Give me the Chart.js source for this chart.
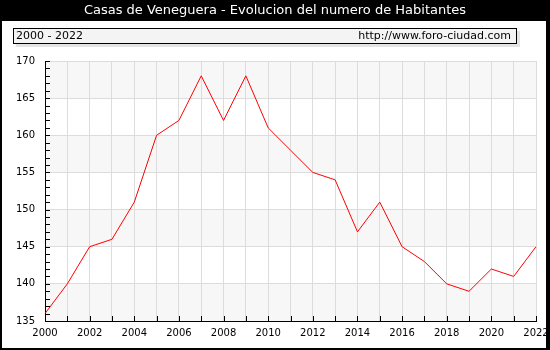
<!DOCTYPE html>
<html>
<head>
<meta charset="utf-8">
<script src="https://cdn.jsdelivr.net/npm/chart.js@4.4.1/dist/chart.umd.min.js"></script>
<style>
  html, body { margin: 0; padding: 0; background: #000; }
  #wrap { width: 550px; height: 350px; }
</style>
</head>
<body>
<div id="wrap"><canvas id="habChart" width="550" height="350"></canvas></div>
<script>
// Data
const years = ['2000', '2001', '2002', '2003', '2004', '2005', '2006', '2007', '2008', '2009', '2010', '2011',
               '2012', '2013', '2014', '2015', '2016', '2017', '2018', '2019', '2020', '2021', '2022'];
const habitantes = [136, 140, 145, 146, 151, 160, 162, 168, 162, 168, 161, 158,
                    155, 154, 147, 151, 145, 143, 140, 139, 142, 141, 145];
const yMin = 135;
const yMax = 170;
const titleText = 'Casas de Veneguera - Evolucion del numero de Habitantes';
const periodText = '2000 - 2022';
const siteText = 'http://www.foro-ciudad.com';

const FONT = '"DejaVu Sans", Verdana, sans-serif';

// frame, title bar and the info box above the plot
const framePlugin = {
    id: 'frame',
    beforeDraw(chart) {
        const ctx = chart.ctx;
        const w = chart.width, h = chart.height;
        ctx.save();
        ctx.fillStyle = '#000';
        ctx.fillRect(0, 0, w, h);
        ctx.fillStyle = '#fff';
        ctx.fillRect(2, 21, w - 6, h - 23);

        ctx.fillStyle = '#fff';
        ctx.font = '13px ' + FONT;
        ctx.textAlign = 'center';
        ctx.textBaseline = 'middle';
        ctx.fillText(titleText, w / 2, 11);

        // info box with shadow
        ctx.fillStyle = '#e4e4e4';
        ctx.fillRect(16, 31, 504, 16);
        ctx.fillStyle = '#f4f4f4';
        ctx.fillRect(13, 28, 504, 16);
        ctx.strokeStyle = '#000';
        ctx.lineWidth = 1;
        ctx.strokeRect(13.5, 28.5, 503, 15);
        ctx.fillStyle = '#000';
        ctx.font = '11px ' + FONT;
        ctx.textAlign = 'left';
        ctx.fillText(periodText, 16, 36.5);
        ctx.textAlign = 'right';
        ctx.fillText(siteText, 511, 36.5);

        // alternating bands inside the plot
        const area = chart.chartArea;
        const y = chart.scales.y;
        ctx.fillStyle = '#f7f7f7';
        for (let v = yMin; v < yMax; v += 10) {
            const top = y.getPixelForValue(v + 5);
            const bot = y.getPixelForValue(v);
            ctx.fillRect(area.left, top, area.right - area.left, bot - top);
        }
        ctx.restore();
    },
    afterDatasetsDraw(chart) {
        // inward tick marks
        const ctx = chart.ctx;
        const area = chart.chartArea;
        const x = chart.scales.x;
        const y = chart.scales.y;
        ctx.save();
        ctx.strokeStyle = '#000';
        ctx.lineWidth = 1;
        ctx.beginPath();
        for (let v = yMin; v <= yMax; v++) {
            const py = Math.round(y.getPixelForValue(v)) + 0.5;
            ctx.moveTo(area.left, py);
            ctx.lineTo(area.left + 5, py);
        }
        for (let i = 0; i < years.length; i++) {
            const px = Math.round(x.getPixelForValue(i)) + 0.5;
            ctx.moveTo(px, area.bottom);
            ctx.lineTo(px, area.bottom - 5);
        }
        ctx.stroke();
        ctx.restore();
    }
};

const ctx = document.getElementById('habChart').getContext('2d');
new Chart(ctx, {
    type: 'line',
    data: {
        labels: years,
        datasets: [{
            data: habitantes,
            borderColor: '#ff0000',
            borderWidth: 1,
            pointRadius: 0,
            tension: 0,
            fill: false
        }]
    },
    options: {
        responsive: false,
        animation: false,
        layout: { padding: { left: 0, top: 61, right: 14, bottom: 0 } },
        plugins: {
            legend: { display: false },
            title: { display: false },
            tooltip: { enabled: false }
        },
        scales: {
            x: {
                offset: false,
                grid: { color: '#dcdcdc', drawTicks: false },
                border: { color: '#000', width: 1 },
                ticks: {
                    autoSkip: false,
                    maxRotation: 0,
                    padding: 6,
                    color: '#000',
                    font: { family: FONT, size: 10 },
                    callback: function(val, idx) { return idx % 2 === 0 ? years[idx] : ''; }
                },
                afterFit: s => {
                    s.height = 29;
                    s.paddingLeft = 0;
                    s.paddingRight = 0;
                }
            },
            y: {
                min: yMin,
                max: yMax,
                grid: { color: '#dcdcdc', drawTicks: false },
                border: { color: '#000', width: 1 },
                ticks: {
                    stepSize: 5,
                    padding: 10,
                    color: '#000',
                    font: { family: FONT, size: 10 }
                },
                afterFit: s => {
                    s.width = 45;
                    s.paddingTop = 0;
                    s.paddingBottom = 0;
                }
            }
        }
    },
    plugins: [framePlugin]
});
</script>
</body>
</html>
